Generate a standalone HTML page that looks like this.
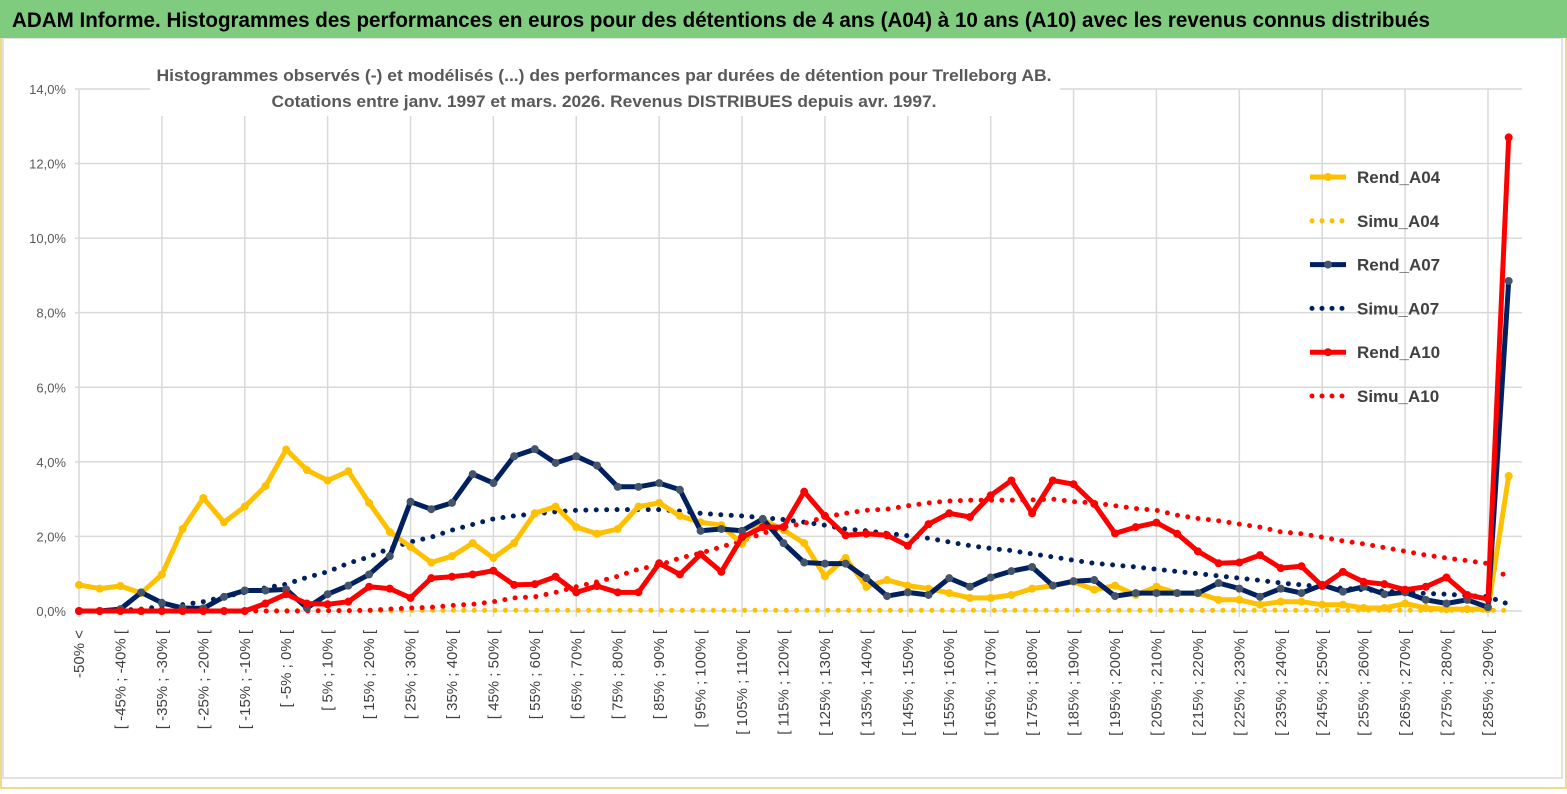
<!DOCTYPE html>
<html><head><meta charset="utf-8"><style>
body{margin:0;background:#fff;font-family:"Liberation Sans",sans-serif}
svg text{font-family:"Liberation Sans",sans-serif}
</style></head><body>
<svg id="c" width="1567" height="789" viewBox="0 0 1567 789">
<rect x="0" y="0" width="1567" height="789" fill="#fff"/>
<rect x="1" y="1" width="1565" height="787" fill="none" stroke="#f2d98a" stroke-width="2"/>
<rect x="3" y="38" width="1559" height="740" fill="none" stroke="#d9d9d9" stroke-width="1.5"/>
<rect x="0" y="0" width="1567" height="38" fill="#7fcc7f"/>
<text x="12" y="27" font-size="21" font-weight="bold" fill="#000" textLength="1418" lengthAdjust="spacingAndGlyphs">ADAM Informe. Histogrammes des performances en euros pour des détentions de 4 ans (A04) à 10 ans (A10) avec les revenus connus distribués</text>
<g id="grid"></g>
<rect x="150" y="58" width="910" height="58" fill="#fff"/>
<text x="604" y="81" font-size="17" font-weight="bold" fill="#595959" text-anchor="middle" textLength="895" lengthAdjust="spacingAndGlyphs">Histogrammes observés (-) et modélisés (...) des performances par durées de détention pour Trelleborg AB.</text>
<text x="604" y="107" font-size="17" font-weight="bold" fill="#595959" text-anchor="middle" textLength="665" lengthAdjust="spacingAndGlyphs">Cotations entre janv. 1997 et mars. 2026. Revenus DISTRIBUES depuis avr. 1997.</text>
<g id="series"></g>
<g id="legend"></g>
</svg>
<script>
const yTicks=[0,2,4,6,8,10,12,14];
const rendA04=[0.7,0.6,0.67,0.48,0.98,2.2,3.03,2.38,2.8,3.35,4.33,3.78,3.5,3.75,2.9,2.12,1.72,1.3,1.47,1.82,1.42,1.82,2.62,2.8,2.25,2.07,2.2,2.8,2.9,2.55,2.38,2.3,1.8,2.45,2.17,1.82,0.93,1.42,0.65,0.83,0.68,0.6,0.48,0.35,0.35,0.43,0.6,0.68,0.78,0.57,0.68,0.43,0.65,0.48,0.48,0.3,0.3,0.17,0.25,0.25,0.17,0.17,0.08,0.08,0.2,0.08,0.05,0.05,0.05,3.62];
const rendA07=[0,0,0.05,0.5,0.22,0.08,0.07,0.38,0.55,0.55,0.58,0.08,0.45,0.68,0.98,1.47,2.93,2.73,2.9,3.67,3.43,4.15,4.34,3.97,4.15,3.9,3.33,3.33,3.43,3.25,2.15,2.2,2.15,2.47,1.82,1.3,1.27,1.27,0.88,0.4,0.5,0.43,0.88,0.65,0.9,1.07,1.18,0.68,0.8,0.83,0.4,0.48,0.48,0.48,0.48,0.75,0.6,0.38,0.6,0.48,0.7,0.52,0.65,0.45,0.5,0.3,0.2,0.3,0.1,8.85];
const rendA10=[0,0,0,0,0,0,0,0,0,0.2,0.45,0.2,0.18,0.25,0.65,0.6,0.35,0.88,0.92,0.98,1.08,0.7,0.72,0.92,0.5,0.67,0.5,0.5,1.28,0.98,1.52,1.05,1.98,2.25,2.25,3.2,2.55,2.03,2.07,2.03,1.75,2.33,2.62,2.52,3.1,3.5,2.62,3.5,3.4,2.87,2.08,2.25,2.37,2.07,1.6,1.28,1.3,1.5,1.15,1.2,0.67,1.05,0.78,0.72,0.57,0.65,0.9,0.43,0.32,12.7];
const simuA04=[0,0,0,0,0,0,0,0,0,0,0.01,0.01,0.01,0.01,0.01,0.01,0.02,0.02,0.02,0.02,0.02,0.02,0.02,0.02,0.02,0.02,0.02,0.02,0.02,0.02,0.02,0.02,0.02,0.02,0.02,0.02,0.02,0.02,0.02,0.02,0.02,0.02,0.02,0.02,0.02,0.02,0.02,0.02,0.02,0.02,0.02,0.02,0.02,0.02,0.02,0.02,0.02,0.02,0.02,0.02,0.02,0.02,0.02,0.02,0.02,0.02,0.02,0.02,0.02,0.02];
const simuA07=[0,0,0.02,0.05,0.12,0.17,0.25,0.38,0.5,0.62,0.72,0.9,1.05,1.28,1.45,1.68,1.85,1.98,2.17,2.32,2.47,2.55,2.6,2.66,2.7,2.71,2.72,2.72,2.72,2.68,2.62,2.58,2.55,2.5,2.45,2.38,2.3,2.2,2.15,2.08,2.02,1.95,1.85,1.75,1.68,1.62,1.53,1.45,1.36,1.28,1.23,1.18,1.12,1.06,1.0,0.94,0.88,0.82,0.75,0.7,0.65,0.61,0.57,0.53,0.5,0.47,0.45,0.41,0.38,0.18];
const simuA10=[0,0,0,0,0,0,0,0,0,0,0,0,0.01,0.01,0.02,0.05,0.08,0.1,0.15,0.18,0.25,0.35,0.38,0.5,0.65,0.78,0.93,1.12,1.23,1.42,1.55,1.72,1.88,2.08,2.25,2.35,2.52,2.62,2.7,2.73,2.82,2.9,2.95,2.97,2.97,2.97,2.98,3.0,2.93,2.9,2.82,2.75,2.7,2.57,2.48,2.42,2.33,2.25,2.12,2.07,1.98,1.88,1.8,1.7,1.6,1.5,1.42,1.35,1.27,0.88];
const N=70;
const categories=[];
for(let i=0;i<N;i++){
  if(i===0) categories.push('-50% <');
  else if(i===N-1) categories.push('> 290%');
  else {const lo=-50+5*(i-1);categories.push('[ '+lo+'% ; '+(lo+5)+'% [');}
}
const NS='http://www.w3.org/2000/svg';
const X0=79,DX=20.72,Y0=611,PY=37.29,XR=1522;
const xs=i=>X0+DX*i, ys=v=>Y0-v*PY;
function mk(tag,attrs,parent){const e=document.createElementNS(NS,tag);for(const k in attrs)e.setAttribute(k,attrs[k]);parent.appendChild(e);return e;}
const grid=document.getElementById('grid');
yTicks.forEach(t=>{
  const l=mk('line',{x1:75,x2:XR,y1:ys(t),y2:ys(t),stroke:'#d9d9d9','stroke-width':1.5},grid);
  
  
  const tx=mk('text',{x:66,y:ys(t)+5,'text-anchor':'end','font-size':13,fill:'#595959'},grid);
  tx.textContent=t.toFixed(1).replace('.',',')+'%';
  
  
});
for(let i=0;i<N;i+=4){
  const l=mk('line',{x1:xs(i),x2:xs(i),y1:ys(14),y2:Y0+6,stroke:'#d9d9d9','stroke-width':1.5},grid);
  
  
}
for(let i=0;i<N;i+=2){
  const tx=mk('text',{x:0,y:0,'text-anchor':'end','font-size':15,fill:'#404040',transform:'translate('+(xs(i)+5)+',630) rotate(-90)'},grid);
  tx.textContent=categories[i];
  
  
}
const ser=document.getElementById('series');
function pts(arr){return arr.map((v,i)=>xs(i).toFixed(1)+','+ys(v).toFixed(1)).join(' ');}
function dotted(arr,col,name){
  const p=mk('polyline',{points:pts(arr),fill:'none',stroke:col,'stroke-width':5,'stroke-linecap':'round','stroke-dasharray':'0 10.4'},ser);
  
  
}
function solid(arr,col,mcol,name){
  const g=mk('g',{},ser);
  
  
  mk('polyline',{points:pts(arr),fill:'none',stroke:col,'stroke-width':5,'stroke-linejoin':'round'},g);
  arr.forEach((v,i)=>{
    const c=mk('circle',{cx:xs(i),cy:ys(v),r:4,fill:mcol},g);
    
    
  });
}
dotted(simuA04,'#ffc000','simu-a04-line');
dotted(simuA07,'#002060','simu-a07-line');
dotted(simuA10,'#ff0000','simu-a10-line');
solid(rendA04,'#ffc000','#ffc000','rend-a04-line');
solid(rendA07,'#002060','#44546a','rend-a07-line');
solid(rendA10,'#ff0000','#ff0000','rend-a10-line');
const leg=document.getElementById('legend');
const legendNames=['Rend_A04','Simu_A04','Rend_A07','Simu_A07','Rend_A10','Simu_A10'];
const legendCols=['#ffc000','#ffc000','#002060','#002060','#ff0000','#ff0000'];
legendNames.forEach((n,k)=>{
  const y=177+k*43.8;
  const g=mk('g',{},leg);
  
  
  if(k%2===0){
    mk('line',{x1:1310,x2:1346,y1:y,y2:y,stroke:legendCols[k],'stroke-width':5},g);
    mk('circle',{cx:1328,cy:y,r:4,fill:k===2?'#44546a':legendCols[k]},g);
  } else {
    mk('line',{x1:1312,x2:1346,y1:y,y2:y,stroke:legendCols[k],'stroke-width':5,'stroke-linecap':'round','stroke-dasharray':'0 10'},g);
  }
  const t=mk('text',{x:1357,y:y+6,'font-size':17,fill:'#404040','font-weight':'bold'},g);
  t.textContent=n;
});
</script>
</body></html>
